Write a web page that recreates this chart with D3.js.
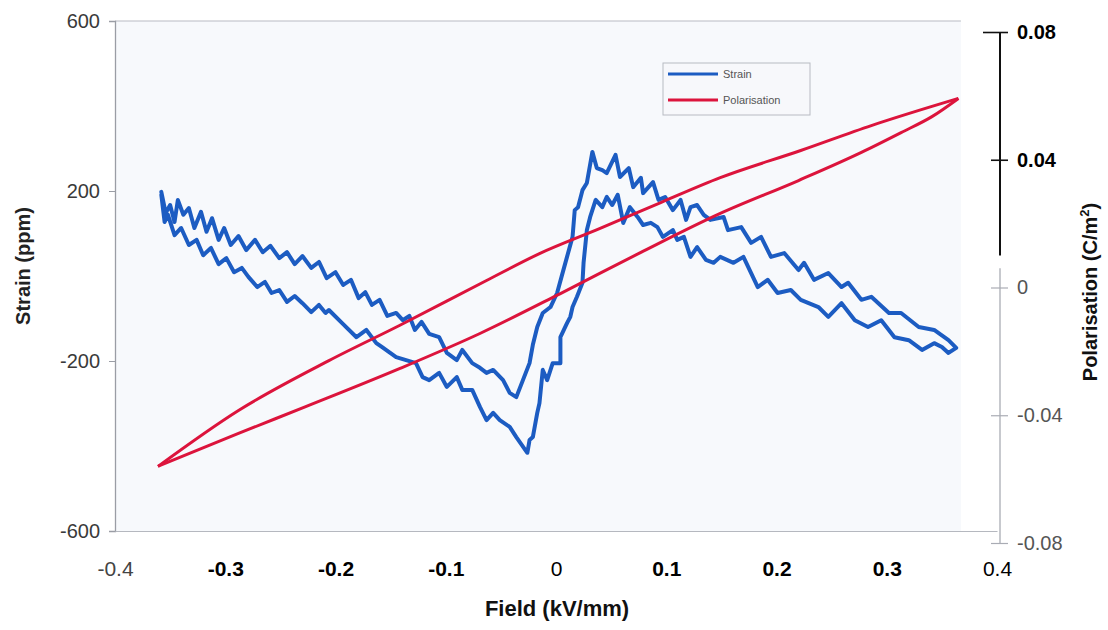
<!DOCTYPE html>
<html>
<head>
<meta charset="utf-8">
<script src="https://cdn.jsdelivr.net/npm/d3@7"></script>
<style>
body { margin: 0; background: #fff; }
svg { display: block; font-family: "Liberation Sans", Arial, sans-serif; }
</style>
</head>
<body>
<script>
// Data
const fieldTicks = [-0.4, -0.3, -0.2, -0.1, 0, 0.1, 0.2, 0.3, 0.4];
const strainTicks = [-600, -200, 200, 600];
const polTicks = [-0.08, -0.04, 0, 0.04, 0.08];

// strain loop, field going up (upper trace) [field kV/mm, strain ppm]
const strainRising = [
  [-0.358,198],[-0.354,148],[-0.350,167],[-0.346,127],[-0.343,179],[-0.338,144],[-0.333,160],[-0.328,113],
  [-0.322,151],[-0.317,104],[-0.312,136],[-0.306,85],[-0.301,113],[-0.295,73],[-0.288,94],[-0.281,61],
  [-0.273,85],[-0.266,56],[-0.259,71],[-0.251,42],[-0.244,56],[-0.237,28],[-0.230,47],[-0.222,19],
  [-0.215,33],[-0.208,-5],[-0.200,9],[-0.193,-21],[-0.186,-9],[-0.179,-52],[-0.173,-38],[-0.167,-68],
  [-0.160,-56],[-0.153,-94],[-0.145,-87],[-0.139,-104],[-0.133,-94],[-0.128,-127],[-0.122,-108],[-0.115,-136],
  [-0.106,-144],[-0.099,-181],[-0.090,-198],[-0.085,-174],[-0.076,-205],[-0.069,-216],[-0.063,-228],[-0.057,-221],
  [-0.048,-245],[-0.042,-275],[-0.036,-285],[-0.030,-245],[-0.024,-205],[-0.021,-162],[-0.017,-120],[-0.012,-87],
  [-0.005,-73],[0.001,-40],[0.005,-2],[0.010,45],[0.015,92],[0.017,155],[0.020,162],[0.024,202],
  [0.028,219],[0.033,292],[0.037,254],[0.042,249],[0.046,242],[0.054,285],[0.058,233],[0.066,254],
  [0.070,209],[0.077,231],[0.079,195],[0.088,221],[0.093,179],[0.099,186],[0.106,155],[0.113,179],
  [0.118,132],[0.122,162],[0.128,167],[0.134,144],[0.140,132],[0.152,139],[0.156,108],[0.168,115],
  [0.177,78],[0.186,92],[0.195,45],[0.207,54],[0.220,14],[0.225,31],[0.234,-9],[0.247,7],
  [0.259,-26],[0.265,-16],[0.277,-56],[0.286,-49],[0.302,-87],[0.313,-87],[0.329,-120],[0.343,-127],
  [0.356,-151],[0.363,-169]
];

// strain loop, field coming back down (lower trace)
const strainFalling = [
  [0.356,-181],[0.350,-167],[0.343,-158],[0.332,-174],[0.320,-151],[0.307,-144],[0.295,-104],[0.283,-120],
  [0.271,-104],[0.259,-64],[0.247,-96],[0.238,-73],[0.222,-56],[0.213,-33],[0.201,-40],[0.192,-9],
  [0.183,-26],[0.170,45],[0.161,31],[0.149,45],[0.143,31],[0.136,38],[0.128,68],[0.122,45],
  [0.116,92],[0.110,85],[0.106,108],[0.097,92],[0.092,115],[0.086,125],[0.079,120],[0.074,139],
  [0.067,162],[0.061,125],[0.056,191],[0.051,167],[0.046,186],[0.042,162],[0.036,179],[0.031,139],
  [0.028,108],[0.025,31],[0.024,-16],[0.019,-49],[0.015,-73],[0.013,-96],[0.010,-111],[0.004,-144],
  [0.004,-205],[-0.003,-205],[-0.008,-245],[-0.012,-221],[-0.015,-299],[-0.017,-322],[-0.021,-379],[-0.024,-386],
  [-0.026,-416],[-0.036,-379],[-0.042,-355],[-0.051,-339],[-0.057,-322],[-0.063,-339],[-0.069,-308],[-0.076,-268],
  [-0.085,-268],[-0.090,-238],[-0.099,-261],[-0.106,-228],[-0.115,-245],[-0.121,-238],[-0.127,-205],[-0.136,-198],
  [-0.145,-191],[-0.158,-167],[-0.163,-158],[-0.172,-127],[-0.181,-144],[-0.194,-111],[-0.206,-80],[-0.209,-87],
  [-0.215,-68],[-0.222,-85],[-0.230,-64],[-0.237,-47],[-0.244,-61],[-0.251,-33],[-0.258,-40],[-0.264,-14],
  [-0.271,-26],[-0.279,-2],[-0.285,19],[-0.292,9],[-0.299,42],[-0.306,28],[-0.313,66],[-0.320,49],
  [-0.326,85],[-0.333,73],[-0.340,113],[-0.346,96],[-0.352,144],[-0.355,127],[-0.358,191]
];

// polarisation loop [field kV/mm, polarisation C/m2]
const polUpper = [
  [-0.361,-0.0560],[-0.288,-0.0385],[-0.206,-0.0229],[-0.142,-0.0119],[-0.063,0.0022],[-0.015,0.0106],
  [0.040,0.0185],[0.095,0.0266],[0.149,0.0344],[0.222,0.0429],[0.286,0.0507],[0.341,0.0567],[0.365,0.0592]
];
const polLower = [
  [-0.361,-0.0560],[-0.288,-0.0457],[-0.227,-0.0373],[-0.142,-0.0254],[-0.069,-0.0144],[0.004,-0.0019],
  [0.077,0.0110],[0.149,0.0232],[0.220,0.0335],[0.277,0.0423],[0.313,0.0485],[0.341,0.0535],[0.365,0.0592]
];

const seriesNames = ['Strain', 'Polarisation'];

let width = 1108, height = 630;
let strainColor = '#1c5cc2', polColor = '#dc143c';

let svg = d3.select('body').append('svg').attr('width', width).attr('height', height);

let xScale = d3.scaleLinear().domain([-0.4, 0.4]).range([115, 997]);
let yStrain = d3.scaleLinear().domain([-600, 600]).range([531, 21]);
let yPol = d3.scaleLinear().domain([-0.08, 0.08]).range([543, 32]);

// faint plot background like the scan
svg.append('rect')
  .attr('x', xScale(-0.4)).attr('y', yStrain(600))
  .attr('width', xScale(0.36) - xScale(-0.4) + 8).attr('height', yStrain(-600) - yStrain(600))
  .attr('fill', '#f7f9fc');

svg.append('line')
  .attr('x1', xScale(-0.4)).attr('x2', xScale(0.36) + 8)
  .attr('y1', yStrain(600)).attr('y2', yStrain(600))
  .attr('stroke', '#b9bcc4').attr('stroke-width', 1.2);

// left axis
let yAxis = svg.append('g')
  .attr('transform', `translate(${xScale(-0.4)},0)`)
  .call(d3.axisLeft(yStrain).tickValues(strainTicks).tickSize(6).tickPadding(9).tickFormat(d => String(d)));
yAxis.select('.domain').attr('stroke', '#9a9da5').attr('stroke-width', 1.3);
yAxis.selectAll('.tick line').attr('stroke', '#9a9da5');
yAxis.selectAll('text').attr('font-size', 20).attr('fill', '#3a3a3a').style('font-family', '"Liberation Sans", Arial, sans-serif');

// bottom axis
let xAxis = svg.append('g')
  .attr('transform', `translate(0,${yStrain(-600)})`)
  .call(d3.axisBottom(xScale).tickValues(fieldTicks).tickSize(0).tickPadding(30)
    .tickFormat(d => d === 0 ? '0' : d.toFixed(1)));
xAxis.select('.domain').attr('stroke', '#b5b8bf').attr('stroke-width', 1.2);
xAxis.selectAll('text')
  .attr('font-size', 21)
  .style('font-family', '"Liberation Sans", Arial, sans-serif')
  .attr('font-weight', d => (Math.abs(d) > 0.05 && Math.abs(d) < 0.35) ? 'bold' : 'normal')
  .attr('fill', d => d === -0.4 ? '#444' : '#000');

// right axis
let rX = 1000;
let rAxis = svg.append('g')
  .attr('transform', `translate(${rX},0)`)
  .call(d3.axisRight(yPol).tickValues(polTicks).tickSize(8).tickPadding(9)
    .tickFormat(d => d === 0 ? '0' : d.toFixed(2)));
rAxis.select('.domain').remove();
svg.append('line').attr('x1', rX).attr('x2', rX).attr('y1', yPol(0.006)).attr('y2', yPol(-0.08))
  .attr('stroke', '#a9acb4').attr('stroke-width', 1.3);
svg.append('line').attr('x1', rX).attr('x2', rX).attr('y1', yPol(0.08)).attr('y2', yPol(0.01))
  .attr('stroke', '#111').attr('stroke-width', 2);
rAxis.selectAll('.tick line')
  .attr('x1', d => d === 0.08 ? -17 : -9).attr('x2', 8)
  .attr('stroke', d => d > 0 ? '#111' : '#a9acb4')
  .attr('stroke-width', d => d > 0 ? 1.6 : 1.2);
rAxis.selectAll('text')
  .attr('font-size', 20)
  .style('font-family', '"Liberation Sans", Arial, sans-serif')
  .attr('font-weight', d => d > 0 ? 'bold' : 'normal')
  .attr('fill', d => d > 0 ? '#000' : '#555');

// axis titles
svg.append('text').attr('transform', 'translate(30,266) rotate(-90)')
  .attr('text-anchor', 'middle').attr('font-size', 20).attr('font-weight', 'bold')
  .attr('fill', '#222').text('Strain (ppm)');

svg.append('text').attr('x', 557).attr('y', 616)
  .attr('text-anchor', 'middle').attr('font-size', 22).attr('font-weight', 'bold')
  .attr('fill', '#111').text('Field (kV/mm)');

let pTitle = svg.append('text').attr('transform', 'translate(1097,292) rotate(-90)')
  .attr('text-anchor', 'middle').attr('font-size', 20).attr('font-weight', 'bold').attr('fill', '#111');
pTitle.append('tspan').text('Polarisation (C/m');
pTitle.append('tspan').attr('dy', -8).attr('font-size', 13).text('2');
pTitle.append('tspan').attr('dy', 8).text(')');

// strain loop
let strainLine = d3.line().x(d => xScale(d[0])).y(d => yStrain(d[1]));
svg.append('path')
  .attr('d', strainLine(strainRising.concat(strainFalling)))
  .attr('fill', 'none').attr('stroke', strainColor).attr('stroke-width', 4)
  .attr('stroke-linejoin', 'round').attr('stroke-linecap', 'round');

// polarisation loop
let polLine = d3.line().x(d => xScale(d[0])).y(d => yPol(d[1])).curve(d3.curveMonotoneX);
[polUpper, polLower].forEach(branch => {
  svg.append('path')
    .attr('d', polLine(branch))
    .attr('fill', 'none').attr('stroke', polColor).attr('stroke-width', 3)
    .attr('stroke-linejoin', 'round');
});

// legend
let legend = svg.append('g').attr('transform', 'translate(663,63)');
legend.append('rect').attr('width', 147).attr('height', 52)
  .attr('fill', '#f7f8fb').attr('stroke', '#b8bbc2').attr('stroke-width', 1);
legend.selectAll('g.item').data(seriesNames).enter().append('g')
  .attr('class', 'item')
  .attr('transform', (d, i) => `translate(5,${11 + i * 26})`)
  .each(function (d, i) {
    let g = d3.select(this);
    g.append('line').attr('x1', 0).attr('x2', 50).attr('y1', 0).attr('y2', 0)
      .attr('stroke', i === 0 ? strainColor : polColor).attr('stroke-width', 3);
    g.append('text').attr('x', 55).attr('y', 4).attr('font-size', 11)
      .attr('fill', '#555').text(d);
  });
</script>
</body>
</html>
